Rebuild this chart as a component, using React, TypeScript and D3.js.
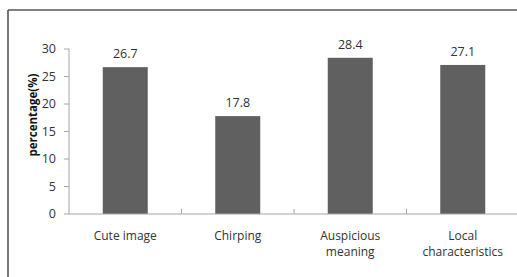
import React from "react";
import * as d3 from "d3";

const categories: string[][] = [["Cute image"], ["Chirping"], ["Auspicious", "meaning"], ["Local", "characteristics"]];
const values: number[] = [26.7, 17.8, 28.4, 27.1];
const yTicks: number[] = [0, 5, 10, 15, 20, 25, 30];
const yLabel = "percentage(%)";

export default function App() {
  const W = 517, H = 277;
  const x0 = 69, bandW = 112.5;
  const y = d3.scaleLinear().domain([0, 30]).range([214, 49]);
  const x = d3.scaleBand<number>().domain(d3.range(values.length)).range([x0, x0 + bandW * values.length]).paddingInner(0.6).paddingOuter(0.3);
  const font = "'Open Sans', 'Noto Sans', sans-serif";
  return (
    <svg width={W} height={H} style={{ position: "absolute", left: 0, top: 0, background: "#fff" }} fontFamily={font}>
      <rect x={0} y={0} width={W} height={H} fill="#fff" />
      <line x1={8} y1={10} x2={8} y2={H} stroke="#555" strokeWidth={1.6} />
      <line x1={8} y1={10} x2={W} y2={10} stroke="#555" strokeWidth={1.6} />
      {/* y axis */}
      <line x1={x0} y1={y(30)} x2={x0} y2={y(0)} stroke="#a6a6a6" strokeWidth={1} />
      {yTicks.map((t) => (
        <g key={t}>
          <line x1={x0 - 5} x2={x0} y1={y(t)} y2={y(t)} stroke="#a6a6a6" />
          <text x={56} y={y(t)} dy="0.35em" textAnchor="end" fontSize={12.5} fill="#333">{t}</text>
        </g>
      ))}
      <text transform={`translate(33,115) rotate(-90)`} textAnchor="middle" dy="0.35em" fontSize={11.5} fontWeight="bold" fill="#111">{yLabel}</text>
      {/* bars */}
      {values.map((v, i) => (
        <g key={i}>
          <rect x={x(i)} y={y(v)} width={x.bandwidth()} height={y(0) - y(v)} fill="#606060" />
          <text x={(x(i) as number) + x.bandwidth() / 2} y={y(v) - 9} textAnchor="middle" fontSize={12.5} fill="#333">{v.toFixed(1)}</text>
          {categories[i].map((line, j) => (
            <text key={j} x={(x(i) as number) + x.bandwidth() / 2} y={236 + j * 16} dy="0.35em" textAnchor="middle" fontSize={12} fill="#333">{line}</text>
          ))}
        </g>
      ))}
      {/* x axis */}
      <line x1={x0} y1={y(0)} x2={W} y2={y(0)} stroke="#a6a6a6" />
      {d3.range(1, values.length).map((i) => (
        <line key={i} x1={x0 + i * bandW} x2={x0 + i * bandW} y1={y(0)} y2={y(0) - 5} stroke="#a6a6a6" />
      ))}
    </svg>
  );
}
